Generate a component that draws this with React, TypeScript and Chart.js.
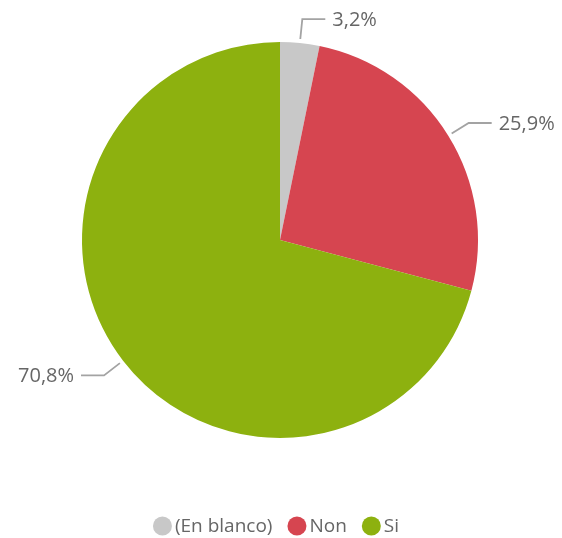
import React, { useEffect, useRef } from "react";
import { Chart, registerables } from "chart.js";

Chart.register(...registerables);

const categories = ["(En blanco)", "Non", "Si"];
const values = [3.2, 25.9, 70.8];
const valueLabels = ["3,2%", "25,9%", "70,8%"];
const colors = ["#C8C8C8", "#D64550", "#8DB10F"];

const FONT = "'Segoe UI', 'Open Sans', sans-serif";
const TEXT_COLOR = "#666666";

const leaderPlugin = {
  id: "leaders",
  afterDatasetsDraw(chart: any) {
    const ctx = chart.ctx;
    const meta = chart.getDatasetMeta(0);
    ctx.save();
    meta.data.forEach((arc: any, i: number) => {
      const { x, y, startAngle, endAngle, outerRadius } = arc.getProps(
        ["x", "y", "startAngle", "endAngle", "outerRadius"],
        true
      );
      const mid = (startAngle + endAngle) / 2;
      const cos = Math.cos(mid);
      const sin = Math.sin(mid);
      const sx = x + cos * (outerRadius + 4);
      const sy = y + sin * (outerRadius + 4);
      const ex = x + cos * (outerRadius + 24);
      const ey = y + sin * (outerRadius + 24);
      const right = cos >= 0;
      const hx = ex + (right ? 23 : -23);
      ctx.strokeStyle = "#A3A3A3";
      ctx.lineWidth = 1.8;
      ctx.beginPath();
      ctx.moveTo(sx, sy);
      ctx.lineTo(ex, ey);
      ctx.lineTo(hx, ey);
      ctx.stroke();
      ctx.fillStyle = TEXT_COLOR;
      ctx.font = `20px ${FONT}`;
      ctx.textBaseline = "middle";
      ctx.textAlign = right ? "left" : "right";
      ctx.fillText(valueLabels[i], hx + (right ? 7 : -7), ey + 1);
    });
    ctx.restore();
  },
};

const legendPlugin = {
  id: "customLegend",
  afterDraw(chart: any) {
    const ctx = chart.ctx;
    ctx.save();
    ctx.font = `19px ${FONT}`;
    const r = 9.5;
    const gapText = 3;
    const gapItem = 15;
    const widths = categories.map((c) => ctx.measureText(c).width);
    let total = 0;
    widths.forEach((w, i) => {
      total += 2 * r + gapText + w + (i < widths.length - 1 ? gapItem : 0);
    });
    let x = 276 - total / 2;
    const cy = 526;
    categories.forEach((c, i) => {
      ctx.fillStyle = colors[i];
      ctx.beginPath();
      ctx.arc(x + r, cy, r, 0, Math.PI * 2);
      ctx.fill();
      x += 2 * r + gapText;
      ctx.fillStyle = TEXT_COLOR;
      ctx.textBaseline = "middle";
      ctx.textAlign = "left";
      ctx.fillText(c, x, cy + 1);
      x += widths[i] + gapItem;
    });
    ctx.restore();
  },
};

export default function App() {
  const ref = useRef<HTMLCanvasElement>(null);
  useEffect(() => {
    if (!ref.current) return;
    const chart = new Chart(ref.current, {
      type: "pie",
      data: {
        labels: categories,
        datasets: [
          {
            data: values,
            backgroundColor: colors,
            borderWidth: 0,
          },
        ],
      },
      options: {
        animation: false,
        responsive: false,
        layout: { padding: { top: 42, left: 82, right: 84, bottom: 100 } },
        plugins: {
          legend: { display: false },
          tooltip: { enabled: false },
        },
      },
      plugins: [leaderPlugin, legendPlugin],
    });
    return () => chart.destroy();
  }, []);
  return (
    <div style={{ position: "fixed", left: 0, top: 0, width: 562, height: 538, background: "#fff" }}>
      <canvas ref={ref} width={562} height={538} style={{ width: 562, height: 538 }} />
    </div>
  );
}
